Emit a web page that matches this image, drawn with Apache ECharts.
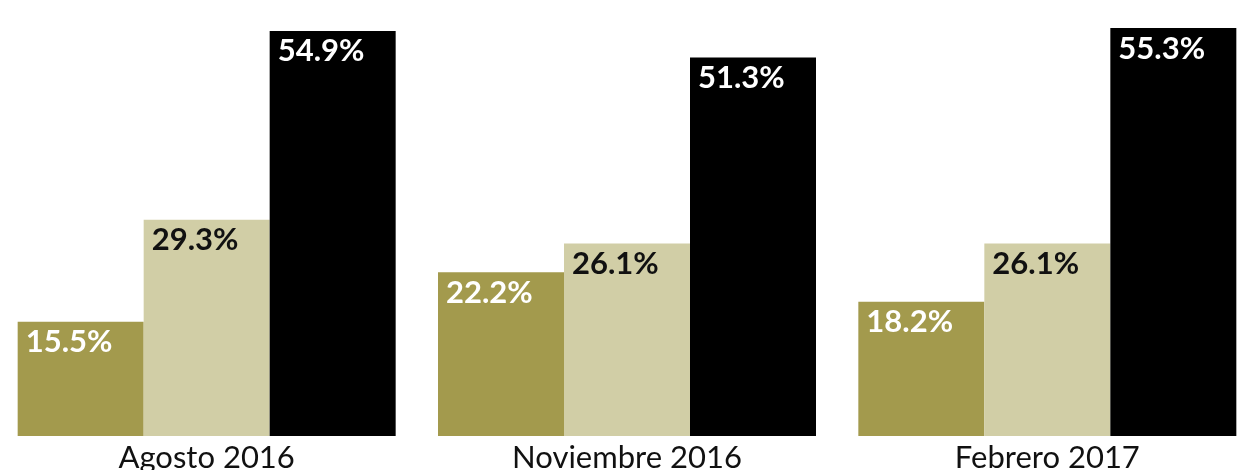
<!DOCTYPE html>
<html><head><meta charset="utf-8">
<script src="https://cdn.jsdelivr.net/npm/echarts@6/dist/echarts.min.js"></script>
<style>html,body{margin:0;padding:0;background:#fff}#c{width:1255px;height:470px}</style>
</head><body><div id="c"></div>
<script>
const categories = ["Agosto 2016", "Noviembre 2016", "Febrero 2017"];
const seriesA = [15.5, 22.2, 18.2];
const seriesB = [29.3, 26.1, 26.1];
const seriesC = [54.9, 51.3, 55.3];

const colors = ['#A39A4D', '#D1CEA6', '#000000'];
const labelColors = ['#ffffff', '#111111', '#ffffff'];

function mk(data, i) {
  return {
    type: 'bar', data: data, barWidth: 126, barGap: 0,
    itemStyle: { color: colors[i] },
    label: {
      show: true, position: [8, 5],
      formatter: p => p.value.toFixed(1) + '%',
      color: labelColors[i], fontFamily: 'Lato', fontWeight: 'bold', fontSize: 31
    }
  };
}
const chart = echarts.init(document.getElementById('c'), null, {renderer: 'canvas'});
chart.setOption({
  animation: false,
  grid: { left: -3.5, right: -2.5, top: 28, bottom: 34, containLabel: false, outerBoundsMode: 'none' },
  xAxis: {
    type: 'category', data: categories,
    axisLine: { show: false }, axisTick: { show: false },
    axisLabel: { fontFamily: 'Lato', fontWeight: 'normal', fontSize: 31, color: '#111', margin: 6 }
  },
  yAxis: { type: 'value', min: 0, max: 55.3, show: false, splitLine: { show: false } },
  series: [mk(seriesA, 0), mk(seriesB, 1), mk(seriesC, 2)]
});
</script></body></html>
